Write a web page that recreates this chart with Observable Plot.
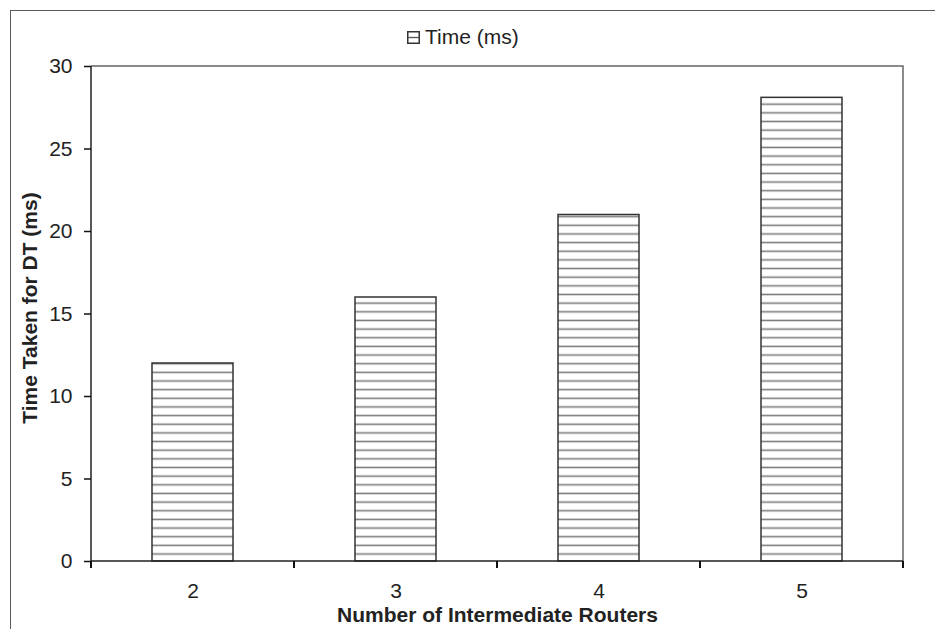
<!DOCTYPE html>
<html>
<head>
<meta charset="utf-8">
<script src="https://cdn.jsdelivr.net/npm/d3@7"></script>
<script src="https://cdn.jsdelivr.net/npm/@observablehq/plot@0.6"></script>
<style>
  body { margin: 0; background: #fff; font-family: Arial, "Liberation Sans", sans-serif; }
  #wrap { position: relative; width: 935px; height: 629px; overflow: hidden; background: #fff; }
  #outer { position: absolute; left: 10px; top: 10px; width: 1000px; height: 700px;
           border-left: 1.5px solid #5a5a5a; border-top: 1.5px solid #5a5a5a; }
  #chart { position: absolute; left: 0; top: 0; }
  #legend { position: absolute; left: 407px; top: 25px; display: flex; align-items: center;
            font-size: 21px; color: #222; font-family: Arial, "Liberation Sans", sans-serif; }
  #legend svg { margin-right: 5px; }
</style>
</head>
<body>
<div id="wrap">
  <div id="outer"></div>
  <div id="chart"></div>
  <div id="legend"></div>
</div>
<script>
const routers = ["2", "3", "4", "5"];
const times = [12, 16, 21, 28.1];
const yTicks = [0, 5, 10, 15, 20, 25, 30];
const seriesName = "Time (ms)";
const xTitle = "Number of Intermediate Routers";
const yTitle = "Time Taken for DT (ms)";

const data = routers.map((r, i) => ({router: r, time: times[i]}));

function axisLines(index, scales, values, dims) {
  const x = scales.x, y = scales.y;
  let bw, step;
  if (typeof x.bandwidth === "function") { bw = x.bandwidth(); step = x.step(); }
  else { step = x(routers[1]) - x(routers[0]); bw = step * 0.4; }
  const top = y(30), bottom = y(0);
  const left = x(routers[0]) + bw / 2 - step / 2;
  const right = x(routers[routers.length - 1]) + bw / 2 + step / 2;
  const g = d3.create("svg:g");
  g.append("path").attr("d", `M${left},${top}H${right}V${bottom}`)
    .attr("fill", "none").attr("stroke", "#666").attr("stroke-width", 1.5);
  g.append("path").attr("d", `M${left},${top}V${bottom}H${right}`)
    .attr("fill", "none").attr("stroke", "#222").attr("stroke-width", 1.5);
  const bounds = routers.map(r => x(r) + bw / 2 - step / 2).concat([right]);
  g.selectAll("line.t").data(bounds).join("line")
    .attr("x1", d => d).attr("x2", d => d)
    .attr("y1", bottom).attr("y2", bottom + 7)
    .attr("stroke", "#111").attr("stroke-width", 2);
  return g.node();
}

const plot = Plot.plot({
  width: 935,
  height: 629,
  marginLeft: 91,
  marginRight: 32,
  marginTop: 66,
  marginBottom: 68,
  style: {fontFamily: "Arial, 'Liberation Sans', sans-serif", fontSize: "21px", color: "#222", background: "transparent", overflow: "visible"},
  x: {domain: routers, paddingInner: 0.6, paddingOuter: 0.3},
  y: {domain: [0, 30]},
  marks: [
    Plot.barY(data, {x: "router", y: "time", fill: "url(#hatch)", stroke: "#333", strokeWidth: 1.5}),
    axisLines,
    Plot.axisY(yTicks, {tickSize: 7, tickPadding: 12, label: null, strokeWidth: 1.5, stroke: "#111", fontSize: 21}),
    Plot.axisX({tickSize: 0, tickPadding: 22, label: null, fontSize: 21}),
    Plot.text([xTitle], {text: d => d, frameAnchor: "bottom", textAnchor: "middle", lineAnchor: "middle", dy: 54, fontWeight: "bold", fontSize: 21, fill: "#222"}),
    Plot.text([yTitle], {text: d => d, frameAnchor: "left", textAnchor: "middle", lineAnchor: "middle", rotate: -90, dx: -61, dy: -6, fontWeight: "bold", fontSize: 21, fill: "#222"})
  ]
});

d3.select(plot).insert("defs", ":first-child").html(
  `<pattern id="hatch" patternUnits="userSpaceOnUse" x="0" y="-3.9" width="10" height="8.65">
     <rect width="10" height="8.65" fill="#fff"/>
     <line x1="0" x2="10" y1="4.3" y2="4.3" stroke="#7d7d7d" stroke-width="1.6"/>
   </pattern>`
);
document.getElementById("chart").appendChild(plot);

const legend = document.getElementById("legend");
legend.innerHTML =
  `<svg width="13" height="13" viewBox="0 0 13 13"><rect x="0.75" y="0.75" width="11.5" height="11.5" fill="#fff" stroke="#333" stroke-width="1.5"/><line x1="0.75" x2="12.25" y1="6.5" y2="6.5" stroke="#555" stroke-width="1.3"/></svg><span></span>`;
legend.querySelector("span").textContent = seriesName;
</script>
</body>
</html>
